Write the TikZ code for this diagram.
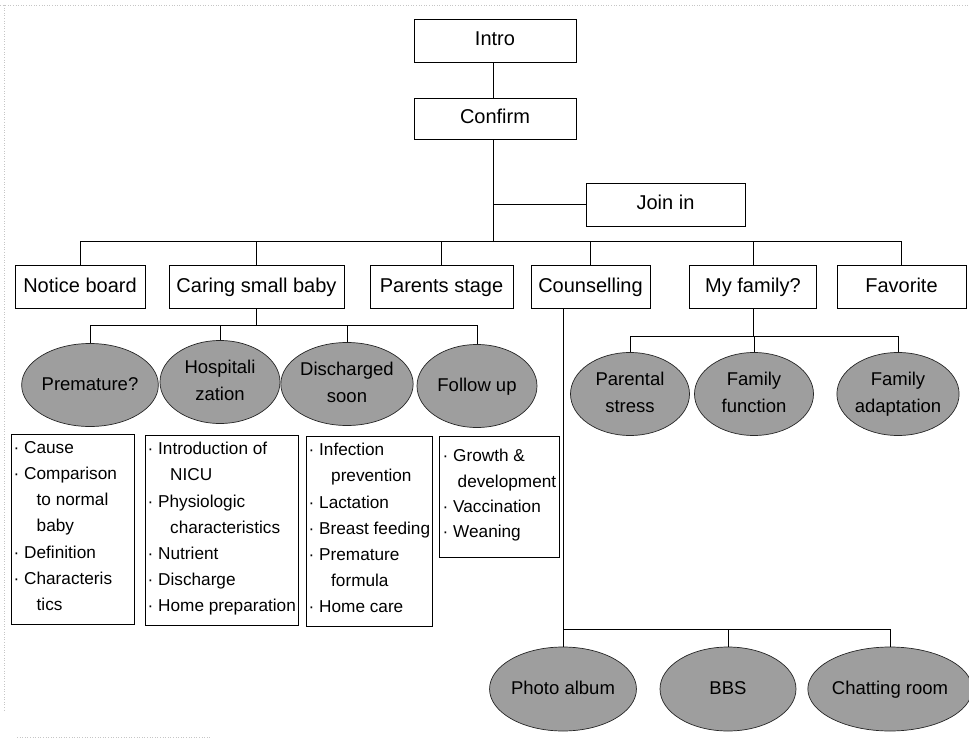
\documentclass[tikz,border=0pt]{standalone}
\usepackage{fontspec}
\setmainfont{Liberation Sans}
\usetikzlibrary{shapes.geometric}
\definecolor{ellfill}{RGB}{158,158,158}
\newcommand\twol[2]{\raisebox{-4pt}{\renewcommand\arraystretch{1.04}\begin{tabular}{@{}c@{}}#1\\#2\end{tabular}}}
\begin{document}
\begin{tikzpicture}[x=1pt,y=-1pt,
  box/.style={draw, line width=0.9pt, inner sep=0pt, minimum height=43pt, text height=15pt, text depth=4pt, font=\fontsize{20}{24}\selectfont},
  oval/.style={ellipse, draw=black!85, line width=0.7pt, fill=ellfill, inner sep=0pt, minimum width=120pt, minimum height=83pt, font=\fontsize{18.5}{26}\selectfont, execute at begin node=\strut},
  listbox/.style={draw, line width=0.9pt, inner sep=0pt, anchor=north west},
  txt/.style={anchor=north west, inner sep=0pt, align=left, font=\fontsize{17.2}{26.2}\selectfont},
  link/.style={line width=0.8pt},
  scan/.style={gray!45, dotted, line width=0.6pt}
]
\useasboundingbox (0,0) rectangle (969,738);
% scan frame
\draw[scan] (0,5) -- (969,5);
\draw[scan] (4,5) -- (4,712);
\draw[scan] (17,737) -- (210,737);

% top
\node[box, minimum width=162pt] (intro) at (495,40.5) {Intro};
\node[box, minimum width=162pt, minimum height=41pt] (confirm) at (495,118.5) {Confirm};
\node[box, minimum width=159pt] (join) at (665.5,204.5) {Join in};
\coordinate (bus) at (493,241);

% main row
\node[box, minimum width=130pt] (notice) at (80,287) {Notice board};
\node[box, minimum width=175pt] (caring) at (256.5,287) {Caring small baby};
\node[box, minimum width=143pt] (parents) at (441.5,287) {Parents stage};
\node[box, minimum width=119pt] (couns) at (590.5,287) {Counselling};
\node[box, minimum width=127pt] (family) at (753,287) {My family?};
\node[box, minimum width=129pt] (fav) at (901.5,287) {Favorite};

\draw[link] (intro.south -| bus) -- (confirm.north -| bus);
\draw[link] (confirm.south -| bus) -- (bus);
\draw[link] (join.west -| bus) -- (join.west);
\draw[link] (notice.north |- bus) -- (fav.north |- bus);
\foreach \n in {notice,caring,parents,couns,family,fav}
  \draw[link] (\n.north) -- (\n.north |- bus);

% caring small baby
\node[oval] (prem) at (90,385) {Premature?};
\node[oval] (hosp) at (220,382) {\twol{Hospitali}{zation}};
\node[oval] (disch) at (347,384) {\twol{Discharged}{soon}};
\node[oval] (follow) at (477,386) {Follow up};
\coordinate (cbus) at (253,325);
\draw[link] (caring.south) -- (caring.south |- cbus);
\draw[link] (prem.north |- cbus) -- (follow.north |- cbus);
\foreach \n in {prem,hosp,disch,follow}
  \draw[link] (\n.north) -- (\n.north |- cbus);

\node[listbox, minimum width=123pt, minimum height=190pt] (l1) at (11,434) {};
\node[listbox, minimum width=153pt, minimum height=190pt] (l2) at (145,435) {};
\node[listbox, minimum width=126pt, minimum height=190pt] (l3) at (306,436) {};
\node[listbox, minimum width=120pt, minimum height=121pt] (l4) at (439,436) {};

\node[txt] (t1) at (13.5,441) {· Cause\\· Comparison\\\hspace*{23pt}to normal\\\hspace*{23pt}baby\\· Definition\\· Characteris\\\hspace*{23pt}tics};
\node[txt] (t2) at (147.5,442) {· Introduction of\\\hspace*{22.5pt}NICU\\· Physiologic\\\hspace*{22.5pt}characteristics\\· Nutrient\\· Discharge\\· Home preparation};
\node[txt] (t3) at (308.5,443) {· Infection\\\hspace*{22.5pt}prevention\\· Lactation\\· Breast feeding\\· Premature\\\hspace*{22.5pt}formula\\· Home care};
\node[txt, font=\fontsize{17.2}{25.4}\selectfont] (t4) at (442.5,449) {· Growth \&\\\hspace*{15pt}development\\· Vaccination\\· Weaning};

% my family
\node[oval, minimum width=119pt] (stress) at (630,394) {\twol{Parental}{stress}};
\node[oval, minimum width=119pt] (func) at (754,394) {\twol{Family}{function}};
\node[oval, minimum width=119pt] (adapt) at (898,394) {\twol{Family}{adaptation}};
\coordinate (fbus) at (753,336);
\draw[link] (family.south) -- (family.south |- fbus);
\draw[link] (stress.north |- fbus) -- (adapt.north |- fbus);
\foreach \n in {stress,func,adapt}
  \draw[link] (\n.north) -- (\n.north |- fbus);

% counselling
\node[oval, minimum width=136pt, minimum height=84pt] (photo) at (563,689) {Photo album};
\node[oval, minimum width=136pt, minimum height=84pt] (bbs) at (728,689) {BBS};
\node[oval, minimum width=136pt, minimum height=84pt] (chat) at (890,689) {Chatting room};
\coordinate (gbus) at (563,629);
\draw[link] (couns.south -| gbus) -- (photo.north);
\draw[link] (gbus) -- (chat.north |- gbus);
\foreach \n in {bbs,chat}
  \draw[link] (\n.north) -- (\n.north |- gbus);
\end{tikzpicture}
\end{document}
